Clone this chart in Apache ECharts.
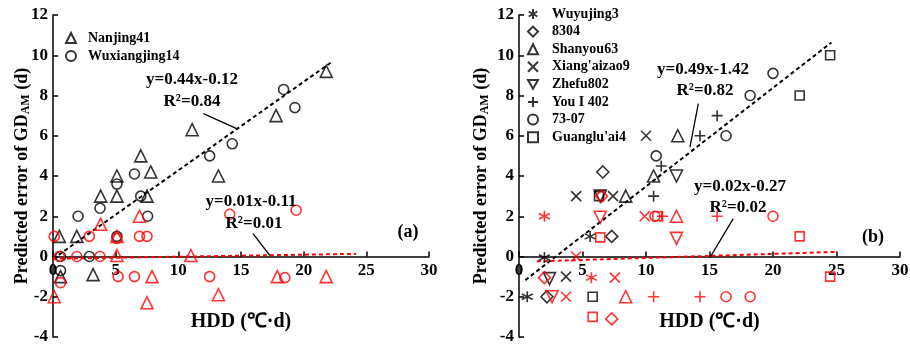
<!DOCTYPE html>
<html>
<head>
<meta charset="utf-8">
<script src="https://cdn.jsdelivr.net/npm/echarts@6/dist/echarts.min.js"></script>
<style>
  html, body { margin: 0; padding: 0; background: #fff; }
  #main { width: 910px; height: 348px; }
</style>
</head>
<body>
<div id="main"></div>
<script>
// ---- data (a) ----
var nanjingBlack = [[0.5,1],[1.9,1],[3.8,3],[5.1,3],[5.1,4],[7,5],[7.5,3],[7.8,4.2],[3.2,-0.9],[0.6,-1],[11.1,6.3],[13.2,4],[17.8,7],[21.8,9.2]];
var wuxiangBlack = [[0.6,0],[0.6,-0.7],[2,2],[2.9,0],[3.75,2.4],[5.1,3.6],[5.1,1],[6.5,4.1],[7,3],[7.55,2],[12.5,5],[14.3,5.6],[18.4,8.3],[19.3,7.4]];
var nanjingRed = [[0.1,-2],[3.8,1.6],[5.1,1],[5.1,0.05],[6.9,2],[7.5,-2.3],[7.9,-1],[11,0.05],[13.2,-1.9],[17.9,-1],[21.8,-1]];
var wuxiangRed = [[0.1,1],[0.5,0],[0.6,-1.3],[1.9,0],[2.9,1],[3.75,0],[5.1,0.9],[5.2,-1],[6.5,-1],[6.9,1],[7.5,1],[12.5,-1],[14.1,2.1],[18.5,-1.05],[19.4,2.3]];

// ---- data (b) ----
var wuyuBlack = [[0.65,-2],[2,-0.05],[5.6,1]];
var d8304Black = [[6.6,4.2],[2.2,-2],[7.3,1]];
var shanyouBlack = [[8.4,3],[10.6,4],[12.5,6]];
var xiangBlack = [[4.5,3],[7.4,3],[3.7,-1],[10,6]];
var zhefuBlack = [[2.4,-1.1],[12.4,4],[6.4,3]];
var you402Black = [[10.6,3],[11.2,4.5],[14.25,6],[15.6,7]];
var s7307Black = [[10.8,5],[16.3,6],[18.2,8],[20,9.1]];
var guangluBlack = [[5.8,-2],[6.3,3],[22.1,8],[24.5,10]];

var wuyuRed = [[2,2],[5.7,-1.05]];
var d8304Red = [[2,-1.05],[6.5,3],[7.3,-3.1]];
var shanyouRed = [[8.4,-2],[12.4,2]];
var xiangRed = [[4.5,0],[7.55,-1.05],[3.7,-2],[9.9,2]];
var zhefuRed = [[2.6,-2],[6.4,1.95],[12.4,0.9]];
var you402Red = [[11.3,2],[10.6,-2],[14.25,-2],[15.6,2]];
var s7307Red = [[10.7,2],[16.3,-2],[18.2,-2],[20,2]];
var guangluRed = [[5.8,-3],[6.4,0.95],[10.9,2],[22.1,1],[24.5,-1]];

// fitted lines: [slope, intercept, xStart, xEnd]
var fitA_black = [0.44, -0.12, 0, 22.2];
var fitA_red = [0.01, -0.11, 0, 24.2];
var fitB_black = [0.49, -1.42, 0.5, 24.6];
var fitB_red = [0.02, -0.27, 1.4, 25];

var xTicks = [0, 5, 10, 15, 20, 25, 30];
var yTicks = [-4, -2, 0, 2, 4, 6, 8, 10, 12];

var FONT = 'Liberation Serif';
var BLACK = '#000';
var RED = '#ff0000';
var GRID_TOP = 15, GRID_H = 322;
// shift of the x axis from the bottom of the grid up to y = 0
var X_OFFSET = -GRID_H * (0 - yTicks[0]) / (yTicks[yTicks.length - 1] - yTicks[0]);

var INV_TRI = 'path://M0,0L10,0L5,8.66Z';
var SYM = {
  tri: 'triangle', circ: 'circle', dia: 'diamond', sq: 'rect',
  cross: 'path://M0,0L10,10M10,0L0,10',
  plus: 'path://M5,0L5,10M0,5L10,5',
  star: 'path://M5,0L5,10M0.67,2.5L9.33,7.5M0.67,7.5L9.33,2.5'
};
var SIZE = { tri: 12, circ: 10, dia: 12, sq: 9, cross: 10, plus: 11, star: 11, inv: 12 };

function pts(name, data, key, color, g) {
  var inv = key === 'inv';
  return {
    name: name, type: 'scatter', xAxisIndex: g, yAxisIndex: g,
    data: data,
    symbol: inv ? 'triangle' : SYM[key],
    symbolRotate: inv ? 180 : 0,
    symbolSize: SIZE[key],
    itemStyle: { color: 'transparent', borderColor: color, borderWidth: 1.6 },
    z: 3
  };
}

function fit(f, color, g, arrow) {
  var s = {
    type: 'line', xAxisIndex: g, yAxisIndex: g, silent: true,
    data: [[f[2], f[0] * f[2] + f[1]], [f[3], f[0] * f[3] + f[1]]],
    showSymbol: false, symbol: 'none',
    lineStyle: { color: color, width: 2, type: [4, 3] },
    z: 2
  };
  if (arrow) {
    s.markLine = {
      silent: true, symbol: ['none', 'arrow'], symbolSize: [0, 9],
      label: { show: false },
      lineStyle: { color: BLACK, type: 'solid', width: 1.3 },
      data: [[{ coord: arrow[0] }, { coord: arrow[1] }]]
    };
  }
  return s;
}

function xAxis(g) {
  return {
    gridIndex: g, type: 'value', min: xTicks[0], max: xTicks[xTicks.length - 1], interval: 5,
    position: 'bottom', offset: X_OFFSET,
    axisLine: { onZero: false, lineStyle: { color: BLACK, width: 1.5 } },
    axisTick: { inside: true, length: 5, lineStyle: { color: BLACK, width: 1.5 } },
    axisLabel: { color: BLACK, fontFamily: FONT, fontWeight: 'bold', fontSize: 17, margin: 6 },
    splitLine: { show: false },
    name: 'HDD (℃·d)', nameLocation: 'middle', nameGap: 55,
    nameTextStyle: { color: BLACK, fontFamily: FONT, fontWeight: 'bold', fontSize: 20 }
  };
}

function yAxis(g, gap) {
  return {
    gridIndex: g, type: 'value', min: yTicks[0], max: yTicks[yTicks.length - 1], interval: 2,
    axisLine: { onZero: false, lineStyle: { color: BLACK, width: 1.5 } },
    axisTick: { inside: true, length: 5, lineStyle: { color: BLACK, width: 1.5 } },
    axisLabel: { color: BLACK, fontFamily: FONT, fontWeight: 'bold', fontSize: 17, margin: 5 },
    splitLine: { show: false },
    name: '{a|Predicted error of GD}{b|AM}{a| (d)}', nameLocation: 'middle', nameGap: gap,
    nameMoveOverlap: false,
    nameTextStyle: {
      color: BLACK, fontFamily: FONT, fontWeight: 'bold', fontSize: 18,
      rich: {
        a: { color: BLACK, fontFamily: FONT, fontWeight: 'bold', fontSize: 18 },
        b: { color: BLACK, fontFamily: FONT, fontWeight: 'bold', fontSize: 12, verticalAlign: 'bottom', padding: [8, 0, 0, 0] }
      }
    }
  };
}

function txt(x, y, s, size) {
  return {
    type: 'text', x: x, y: y, silent: true, z: 10,
    style: { text: s, fill: BLACK, font: 'bold ' + (size || 17) + 'px "' + FONT + '"', textAlign: 'center', textVerticalAlign: 'middle' }
  };
}

var legendText = { color: BLACK, fontFamily: FONT, fontWeight: 'bold', fontSize: 14, lineHeight: 14 };

var chart = echarts.init(document.getElementById('main'));
var option = {
  animation: false,
  backgroundColor: '#fff',
  grid: [
    { left: 53, top: GRID_TOP, width: 376, height: GRID_H, outerBoundsMode: 'none' },
    { left: 519, top: GRID_TOP, width: 381, height: GRID_H, outerBoundsMode: 'none' }
  ],
  xAxis: [xAxis(0), xAxis(1)],
  yAxis: [yAxis(0, 21), yAxis(1, 28)],
  legend: [
    {
      orient: 'vertical', left: 60, top: 26, itemWidth: 10, itemHeight: 10, itemGap: 4,
      selectedMode: false, textStyle: Object.assign({ padding: [0, 0, 0, 7] }, legendText),
      data: ['Nanjing41', 'Wuxiangjing14']
    },
    {
      orient: 'vertical', left: 522, top: 2, itemWidth: 10, itemHeight: 10, itemGap: 3.6,
      selectedMode: false, textStyle: Object.assign({ padding: [0, 0, 0, 9] }, legendText),
      data: ['Wuyujing3', '8304', 'Shanyou63', "Xiang'aizao9", { name: 'Zhefu802', icon: INV_TRI }, 'You I 402', '73-07', "Guanglu'ai4"]
    }
  ],
  series: [
    fit(fitA_black, BLACK, 0, [[14.66, 6.35], [12.0, 7.1]]),
    fit(fitA_red, RED, 0, [[17.3, 0.05], [15.96, 1.14]]),
    pts('Nanjing41', nanjingBlack, 'tri', BLACK, 0),
    pts('Wuxiangjing14', wuxiangBlack, 'circ', BLACK, 0),
    pts('Nanjing41 r', nanjingRed, 'tri', RED, 0),
    pts('Wuxiangjing14 r', wuxiangRed, 'circ', RED, 0),

    fit(fitB_black, BLACK, 1, [[13.46, 5.44], [14.12, 7.6]]),
    fit(fitB_red, RED, 1, [[15.04, -0.05], [16.87, 1.88]]),
    pts('Wuyujing3', wuyuBlack, 'star', BLACK, 1),
    pts('8304', d8304Black, 'dia', BLACK, 1),
    pts('Shanyou63', shanyouBlack, 'tri', BLACK, 1),
    pts("Xiang'aizao9", xiangBlack, 'cross', BLACK, 1),
    pts('Zhefu802', zhefuBlack, 'inv', BLACK, 1),
    pts('You I 402', you402Black, 'plus', BLACK, 1),
    pts('73-07', s7307Black, 'circ', BLACK, 1),
    pts("Guanglu'ai4", guangluBlack, 'sq', BLACK, 1),
    pts('Wuyujing3 r', wuyuRed, 'star', RED, 1),
    pts('8304 r', d8304Red, 'dia', RED, 1),
    pts('Shanyou63 r', shanyouRed, 'tri', RED, 1),
    pts("Xiang'aizao9 r", xiangRed, 'cross', RED, 1),
    pts('Zhefu802 r', zhefuRed, 'inv', RED, 1),
    pts('You I 402 r', you402Red, 'plus', RED, 1),
    pts('73-07 r', s7307Red, 'circ', RED, 1),
    pts("Guanglu'ai4 r", guangluRed, 'sq', RED, 1)
  ],
  graphic: [
    txt(192, 80, 'y=0.44x-0.12'),
    txt(192, 102, 'R²=0.84'),
    txt(251, 202, 'y=0.01x-0.11'),
    txt(254, 224, 'R²=0.01'),
    txt(408, 232, '(a)', 18),
    txt(703, 70, 'y=0.49x-1.42'),
    txt(705, 91, 'R²=0.82'),
    txt(740, 187, 'y=0.02x-0.27'),
    txt(738, 208, 'R²=0.02'),
    txt(873, 237, '(b)', 18)
  ]
};
chart.setOption(option);
</script>
</body>
</html>
